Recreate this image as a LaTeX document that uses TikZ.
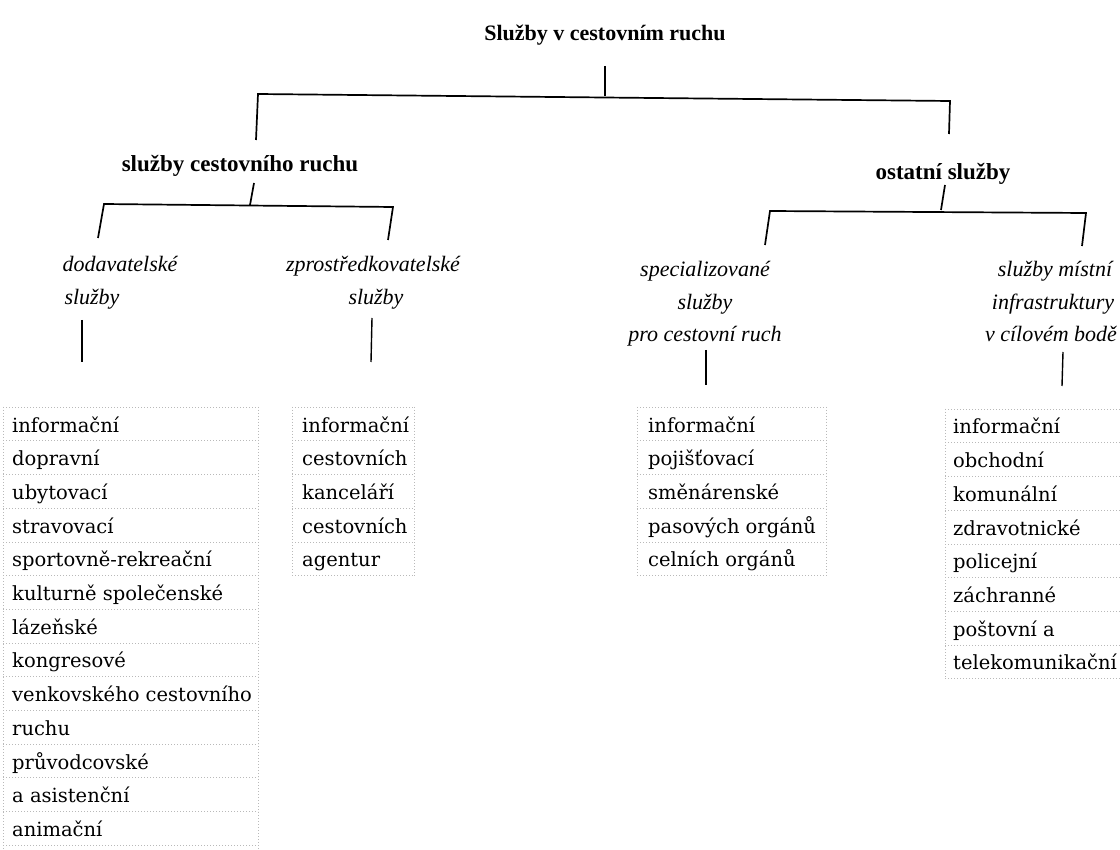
\documentclass[tikz,border=0pt]{standalone}
\usepackage{fontspec}
\setmainfont{Liberation Serif}
\newfontfamily\listfont{DejaVu Serif}
\begin{document}
\begin{tikzpicture}[x=1pt,y=-1pt,
  ln/.style={draw=black,line width=1.7pt},
  gridln/.style={draw=gray!55,line width=0.6pt,dash pattern=on 1pt off 2pt},
  hd/.style={font=\fontsize{22}{22}\selectfont\bfseries,inner sep=0pt,anchor=base},
  itx/.style={font=\fontsize{22}{22}\selectfont\itshape,inner sep=0pt,anchor=base},
  item/.style={font=\listfont\fontsize{19.5}{19.5}\selectfont,inner sep=0pt,anchor=base west}]
\useasboundingbox (0,0) rectangle (1120,850);
\fill[white] (0,0) rectangle (1120,850);

% headings
\node[hd] (title) at (605,41) {Služby v cestovním ruchu};
\node[hd,font=\fontsize{23}{23}\selectfont\bfseries] (scr) at (240,172) {služby cestovního ruchu};
\node[hd,font=\fontsize{23}{23}\selectfont\bfseries] (ost) at (943,180) {ostatní služby};

% level 1 connectors
\coordinate (t1) at (605,66); \coordinate (t2) at (605,96);
\coordinate (hL) at (258,94); \coordinate (hR) at (950,101);
\coordinate (dL) at (256,140); \coordinate (dR) at (949,134);
\draw[ln] (t1) -- (t2);
\draw[ln] (dL) -- (hL) -- (hR) -- (dR);

% level 2 left
\coordinate (s1) at (254,183); \coordinate (s2) at (250,205);
\coordinate (h2L) at (104,204); \coordinate (h2R) at (393,207);
\coordinate (d2L) at (98,238); \coordinate (d2R) at (388,240);
\draw[ln] (s1) -- (s2);
\draw[ln] (d2L) -- (h2L) -- (h2R) -- (d2R);

% level 2 right
\coordinate (o1) at (945,185); \coordinate (o2) at (941,210);
\coordinate (h3L) at (770,211); \coordinate (h3R) at (1086,213);
\coordinate (d3L) at (765,245); \coordinate (d3R) at (1082,246);
\draw[ln] (o1) -- (o2);
\draw[ln] (d3L) -- (h3L) -- (h3R) -- (d3R);

% italic labels
\node[itx] (dod1) at (120,272) {dodavatelské};
\node[itx] (dod2) at (92,305) {služby};
\node[itx] (zpr1) at (373,272) {zprostředkovatelské};
\node[itx] (zpr2) at (376,305) {služby};
\node[itx] (spe1) at (705,277) {specializované};
\node[itx] (spe2) at (705,310) {služby};
\node[itx] (spe3) at (705,342) {pro cestovní ruch};
\node[itx] (mis1) at (1055,277) {služby místní};
\node[itx] (mis2) at (1053,310) {infrastruktury};
\node[itx] (mis3) at (1051,342) {v cílovém bodě};

% stems
\coordinate (a1) at (82,320); \coordinate (a2) at (82,362);
\coordinate (b1) at (372,318); \coordinate (b2) at (371,362);
\coordinate (c1) at (706,350); \coordinate (c2) at (706,385);
\coordinate (e1) at (1063,352); \coordinate (e2) at (1062,386);
\draw[ln,line width=1.4pt] (a1) -- (a2);
\draw[ln,line width=1.4pt] (b1) -- (b2);
\draw[ln,line width=1.4pt] (c1) -- (c2);
\draw[ln,line width=1.4pt] (e1) -- (e2);

% table 1
\def\rh{33.7}
\foreach \k in {0,...,13} \draw[gridln] (3,407+\k*\rh) -- (258,407+\k*\rh);
\draw[gridln] (3,407) -- (3,850);
\draw[gridln] (258,407) -- (258,850);
\foreach \t [count=\i from 0] in {informační,dopravní,ubytovací,stravovací,sportovně-rekreační,kulturně společenské,lázeňské,kongresové,venkovského cestovního,ruchu,průvodcovské,a asistenční,animační}
  \node[item] (ta\i) at (12,407+\i*\rh+25) {\t};

% table 2
\foreach \k in {0,...,5} \draw[gridln] (292,407+\k*\rh) -- (414,407+\k*\rh);
\draw[gridln] (292,407) -- (292,575.5);
\draw[gridln] (414,407) -- (414,575.5);
\foreach \t [count=\i from 0] in {informační,cestovních,kanceláří,cestovních,agentur}
  \node[item] (tb\i) at (302,407+\i*\rh+25) {\t};

% table 3
\foreach \k in {0,...,5} \draw[gridln] (637,407+\k*\rh) -- (826,407+\k*\rh);
\draw[gridln] (637,407) -- (637,575.5);
\draw[gridln] (826,407) -- (826,575.5);
\foreach \t [count=\i from 0] in {informační,pojišťovací,směnárenské,pasových orgánů,celních orgánů}
  \node[item] (tc\i) at (648,407+\i*\rh+25) {\t};

% table 4
\foreach \k in {0,...,8} \draw[gridln] (945,409+\k*\rh) -- (1120,409+\k*\rh);
\draw[gridln] (945,409) -- (945,678.6);
\foreach \t [count=\i from 0] in {informační,obchodní,komunální,zdravotnické,policejní,záchranné,poštovní a,telekomunikační}
  \node[item] (td\i) at (953,409+\i*\rh+25) {\t};
\end{tikzpicture}
\end{document}
